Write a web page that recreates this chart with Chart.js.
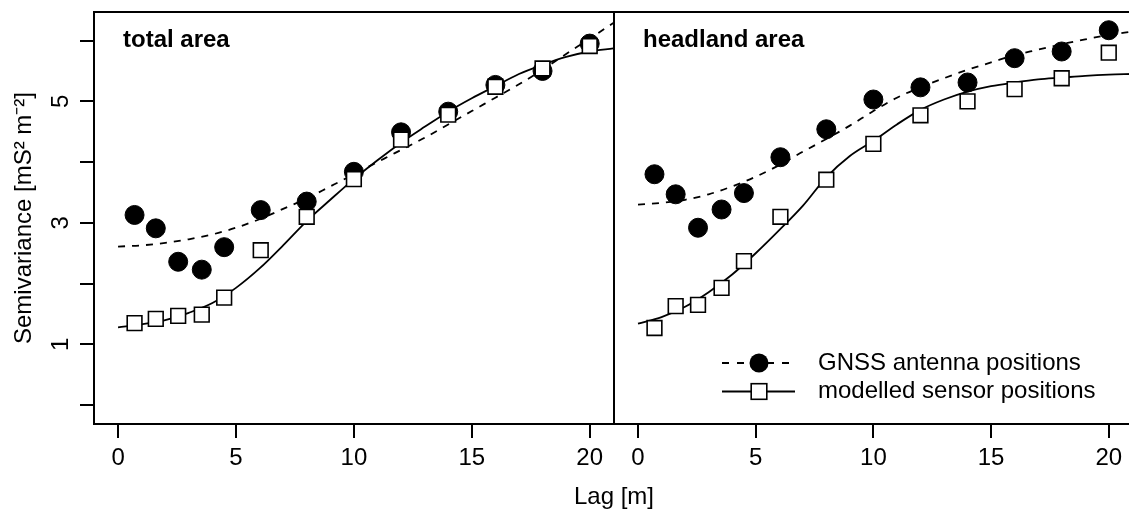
<!DOCTYPE html>
<html>
<head>
<meta charset="utf-8">
<script src="https://cdn.jsdelivr.net/npm/chart.js@4.4.1/dist/chart.umd.min.js"></script>
<style>
  html, body { margin: 0; padding: 0; background: #fff; overflow: hidden; }
  #wrap { position: relative; width: 1129px; height: 511px; overflow: hidden; background: #fff; }
  canvas { position: absolute; top: 0; }
  #totalCanvas { left: 0; }
  #headCanvas { left: 600px; }
</style>
</head>
<body>
<div id="wrap">
  <canvas id="totalCanvas" width="1129" height="511"></canvas>
  <canvas id="headCanvas" width="545" height="511"></canvas>
</div>
<script>
// empirical semivariogram: lag class centres [m]
const lagCentres = [0.7, 1.6, 2.55, 3.55, 4.5, 6.05, 8, 10, 12, 14, 16, 18, 20];

// total area
const totalGnss   = [3.13, 2.91, 2.36, 2.23, 2.60, 3.21, 3.35, 3.84, 4.49, 4.83, 5.27, 5.50, 5.95];
const totalSensor = [1.35, 1.42, 1.47, 1.49, 1.77, 2.55, 3.10, 3.72, 4.37, 4.78, 5.24, 5.54, 5.91];

// headland area
const headGnss   = [3.80, 3.47, 2.92, 3.22, 3.49, 4.08, 4.54, 5.03, 5.23, 5.31, 5.71, 5.82, 6.17];
const headSensor = [1.27, 1.63, 1.65, 1.93, 2.37, 3.10, 3.71, 4.30, 4.77, 5.00, 5.20, 5.38, 5.80];

// fitted models at whole metres
const fitLags = [0, 1, 2, 3, 4, 5, 6, 7, 8, 9, 10, 11, 12, 13, 14, 15, 16, 17, 18, 19, 20, 21];
const totalGnssFit   = [2.61, 2.63, 2.67, 2.73, 2.81, 2.92, 3.06, 3.23, 3.40, 3.60, 3.80, 4.00, 4.20, 4.40, 4.62, 4.84, 5.06, 5.28, 5.52, 5.78, 6.03, 6.29];
const totalSensorFit = [1.28, 1.33, 1.40, 1.52, 1.68, 1.93, 2.25, 2.63, 3.03, 3.38, 3.72, 4.03, 4.32, 4.58, 4.83, 5.05, 5.25, 5.45, 5.60, 5.73, 5.82, 5.87];
const headGnssFit    = [3.30, 3.33, 3.38, 3.47, 3.60, 3.76, 3.95, 4.17, 4.38, 4.60, 4.84, 5.06, 5.23, 5.38, 5.52, 5.64, 5.76, 5.85, 5.94, 6.02, 6.09, 6.15];
const headSensorFit  = [1.34, 1.45, 1.62, 1.86, 2.15, 2.50, 2.88, 3.28, 3.75, 4.10, 4.35, 4.62, 4.86, 5.03, 5.16, 5.25, 5.31, 5.36, 5.39, 5.42, 5.44, 5.45];

const panelTitles = ['total area', 'headland area'];
const legendLabels = ['GNSS antenna positions', 'modelled sensor positions'];
const yTitle = 'Semivariance [mS\u00B2 m\u207B\u00B2]';
const xTitle = 'Lag [m]';
const yLabelled = [1, 3, 5];

const xRange = [-1.02, 21.03];
const yRange = [-0.31, 6.47];

const FONT = '"Liberation Sans", Arial, sans-serif';
Chart.defaults.font.family = FONT;
Chart.defaults.font.size = 24;
Chart.defaults.color = '#000';

const pts = (xs, ys) => xs.map((x, i) => ({ x: x, y: ys[i] }));

function makeDatasets(gnss, sensor, gnssFit, sensorFit) {
    return [
        {
            label: legendLabels[0] + ' model', data: pts(fitLags, gnssFit), showLine: true,
            borderColor: '#000', borderWidth: 1.8, borderDash: [7, 7], pointRadius: 0,
            cubicInterpolationMode: 'monotone', order: 3
        },
        {
            label: legendLabels[1] + ' model', data: pts(fitLags, sensorFit), showLine: true,
            borderColor: '#000', borderWidth: 1.8, pointRadius: 0,
            cubicInterpolationMode: 'monotone', order: 3
        },
        {
            label: legendLabels[0], data: pts(lagCentres, gnss), showLine: false,
            pointStyle: 'circle', pointRadius: 9.5, backgroundColor: '#000',
            borderColor: '#000', borderWidth: 1, order: 2
        },
        {
            label: legendLabels[1], data: pts(lagCentres, sensor), showLine: false,
            pointStyle: 'rect', pointRadius: 10.4, backgroundColor: '#fff',
            borderColor: '#000', borderWidth: 1.6, order: 1
        }
    ];
}

const framePlugin = {
    id: 'frame',
    afterDraw(chart) {
        const { ctx, chartArea: a } = chart;
        ctx.save();
        ctx.strokeStyle = '#000';
        ctx.lineWidth = 2;
        ctx.strokeRect(a.left, a.top, a.right - a.left, a.bottom - a.top);
        ctx.restore();
    }
};

const panelTitlePlugin = {
    id: 'panelTitle',
    afterDraw(chart, args, opts) {
        const { ctx, chartArea: a } = chart;
        ctx.save();
        ctx.font = 'bold 24px ' + FONT;
        ctx.fillStyle = '#000';
        ctx.textAlign = 'left';
        ctx.textBaseline = 'alphabetic';
        ctx.fillText(opts.text, a.left + 29, 46.5);
        ctx.restore();
    }
};

const xTitlePlugin = {
    id: 'xTitle',
    afterDraw(chart, args, opts) {
        if (!opts.show) return;
        const { ctx, chartArea: a } = chart;
        ctx.save();
        ctx.font = '24px ' + FONT;
        ctx.fillStyle = '#000';
        ctx.textAlign = 'center';
        ctx.textBaseline = 'alphabetic';
        ctx.fillText(xTitle, a.right, 504);
        ctx.restore();
    }
};

const panelLegendPlugin = {
    id: 'panelLegend',
    afterDraw(chart, args, opts) {
        if (!opts.show) return;
        const { ctx, chartArea: a } = chart;
        const x0 = a.left + 108, x1 = a.left + 181, xm = a.left + 145, tx = a.left + 204;
        const rows = [363, 391.5];
        ctx.save();
        ctx.strokeStyle = '#000';
        ctx.lineWidth = 1.8;
        // dashed + filled circle
        ctx.setLineDash([7, 8]);
        ctx.beginPath(); ctx.moveTo(x0, rows[0]); ctx.lineTo(x1, rows[0]); ctx.stroke();
        ctx.setLineDash([]);
        ctx.beginPath(); ctx.arc(xm, rows[0], 9.5, 0, Math.PI * 2);
        ctx.fillStyle = '#000'; ctx.fill();
        // solid + open square
        ctx.beginPath(); ctx.moveTo(x0, rows[1]); ctx.lineTo(x1, rows[1]); ctx.stroke();
        ctx.fillStyle = '#fff';
        ctx.lineWidth = 1.6;
        ctx.fillRect(xm - 7.8, rows[1] - 7.8, 15.6, 15.6);
        ctx.strokeRect(xm - 7.8, rows[1] - 7.8, 15.6, 15.6);
        ctx.fillStyle = '#000';
        ctx.font = '24px ' + FONT;
        ctx.textAlign = 'left';
        ctx.textBaseline = 'middle';
        legendLabels.forEach((t, i) => ctx.fillText(t, tx, rows[i]));
        ctx.restore();
    }
};

function noPad(scale) {
    scale.paddingTop = 0;
    scale.paddingBottom = 0;
    scale.paddingLeft = 0;
    scale.paddingRight = 0;
}

function makeChart(canvasId, datasets, opts) {
    return new Chart(document.getElementById(canvasId), {
        type: 'scatter',
        data: { datasets: datasets },
        plugins: [framePlugin, panelTitlePlugin, xTitlePlugin, panelLegendPlugin],
        options: {
            responsive: false,
            animation: false,
            events: [],
            layout: { padding: opts.padding },
            scales: {
                x: {
                    type: 'linear',
                    min: xRange[0], max: xRange[1],
                    border: { display: false },
                    grid: { drawOnChartArea: false, drawTicks: true, tickLength: 14, color: '#000', lineWidth: 2 },
                    ticks: { stepSize: 5, includeBounds: false, padding: 6, maxRotation: 0, autoSkip: false },
                    afterFit(scale) { scale.height = 87; noPad(scale); }
                },
                y: {
                    type: 'linear',
                    display: opts.showY,
                    min: yRange[0], max: yRange[1],
                    border: { display: false },
                    grid: { drawOnChartArea: false, drawTicks: true, tickLength: 14, color: '#000', lineWidth: 2 },
                    ticks: {
                        stepSize: 1, includeBounds: false, autoSkip: false,
                        minRotation: 90, maxRotation: 90, crossAlign: 'center', padding: 11.5,
                        callback: (v) => yLabelled.includes(v) ? String(v) : ''
                    },
                    title: { display: true, text: yTitle, font: { size: 24 }, padding: { top: 10, bottom: 0 } },
                    afterFit(scale) { scale.width = opts.showY ? 94 : 0; noPad(scale); }
                }
            },
            plugins: {
                legend: { display: false },
                tooltip: { enabled: false },
                panelTitle: { text: opts.title },
                xTitle: { show: opts.showXTitle },
                panelLegend: { show: opts.showLegend }
            }
        }
    });
}

makeChart('totalCanvas', makeDatasets(totalGnss, totalSensor, totalGnssFit, totalSensorFit), {
    padding: { top: 9, right: 515, bottom: 0, left: 0 },
    showY: true, title: panelTitles[0], showXTitle: true, showLegend: false
});

makeChart('headCanvas', makeDatasets(headGnss, headSensor, headGnssFit, headSensorFit), {
    padding: { top: 9, right: 8, bottom: 0, left: 14 },
    showY: false, title: panelTitles[1], showXTitle: false, showLegend: true
});
</script>
</body>
</html>
